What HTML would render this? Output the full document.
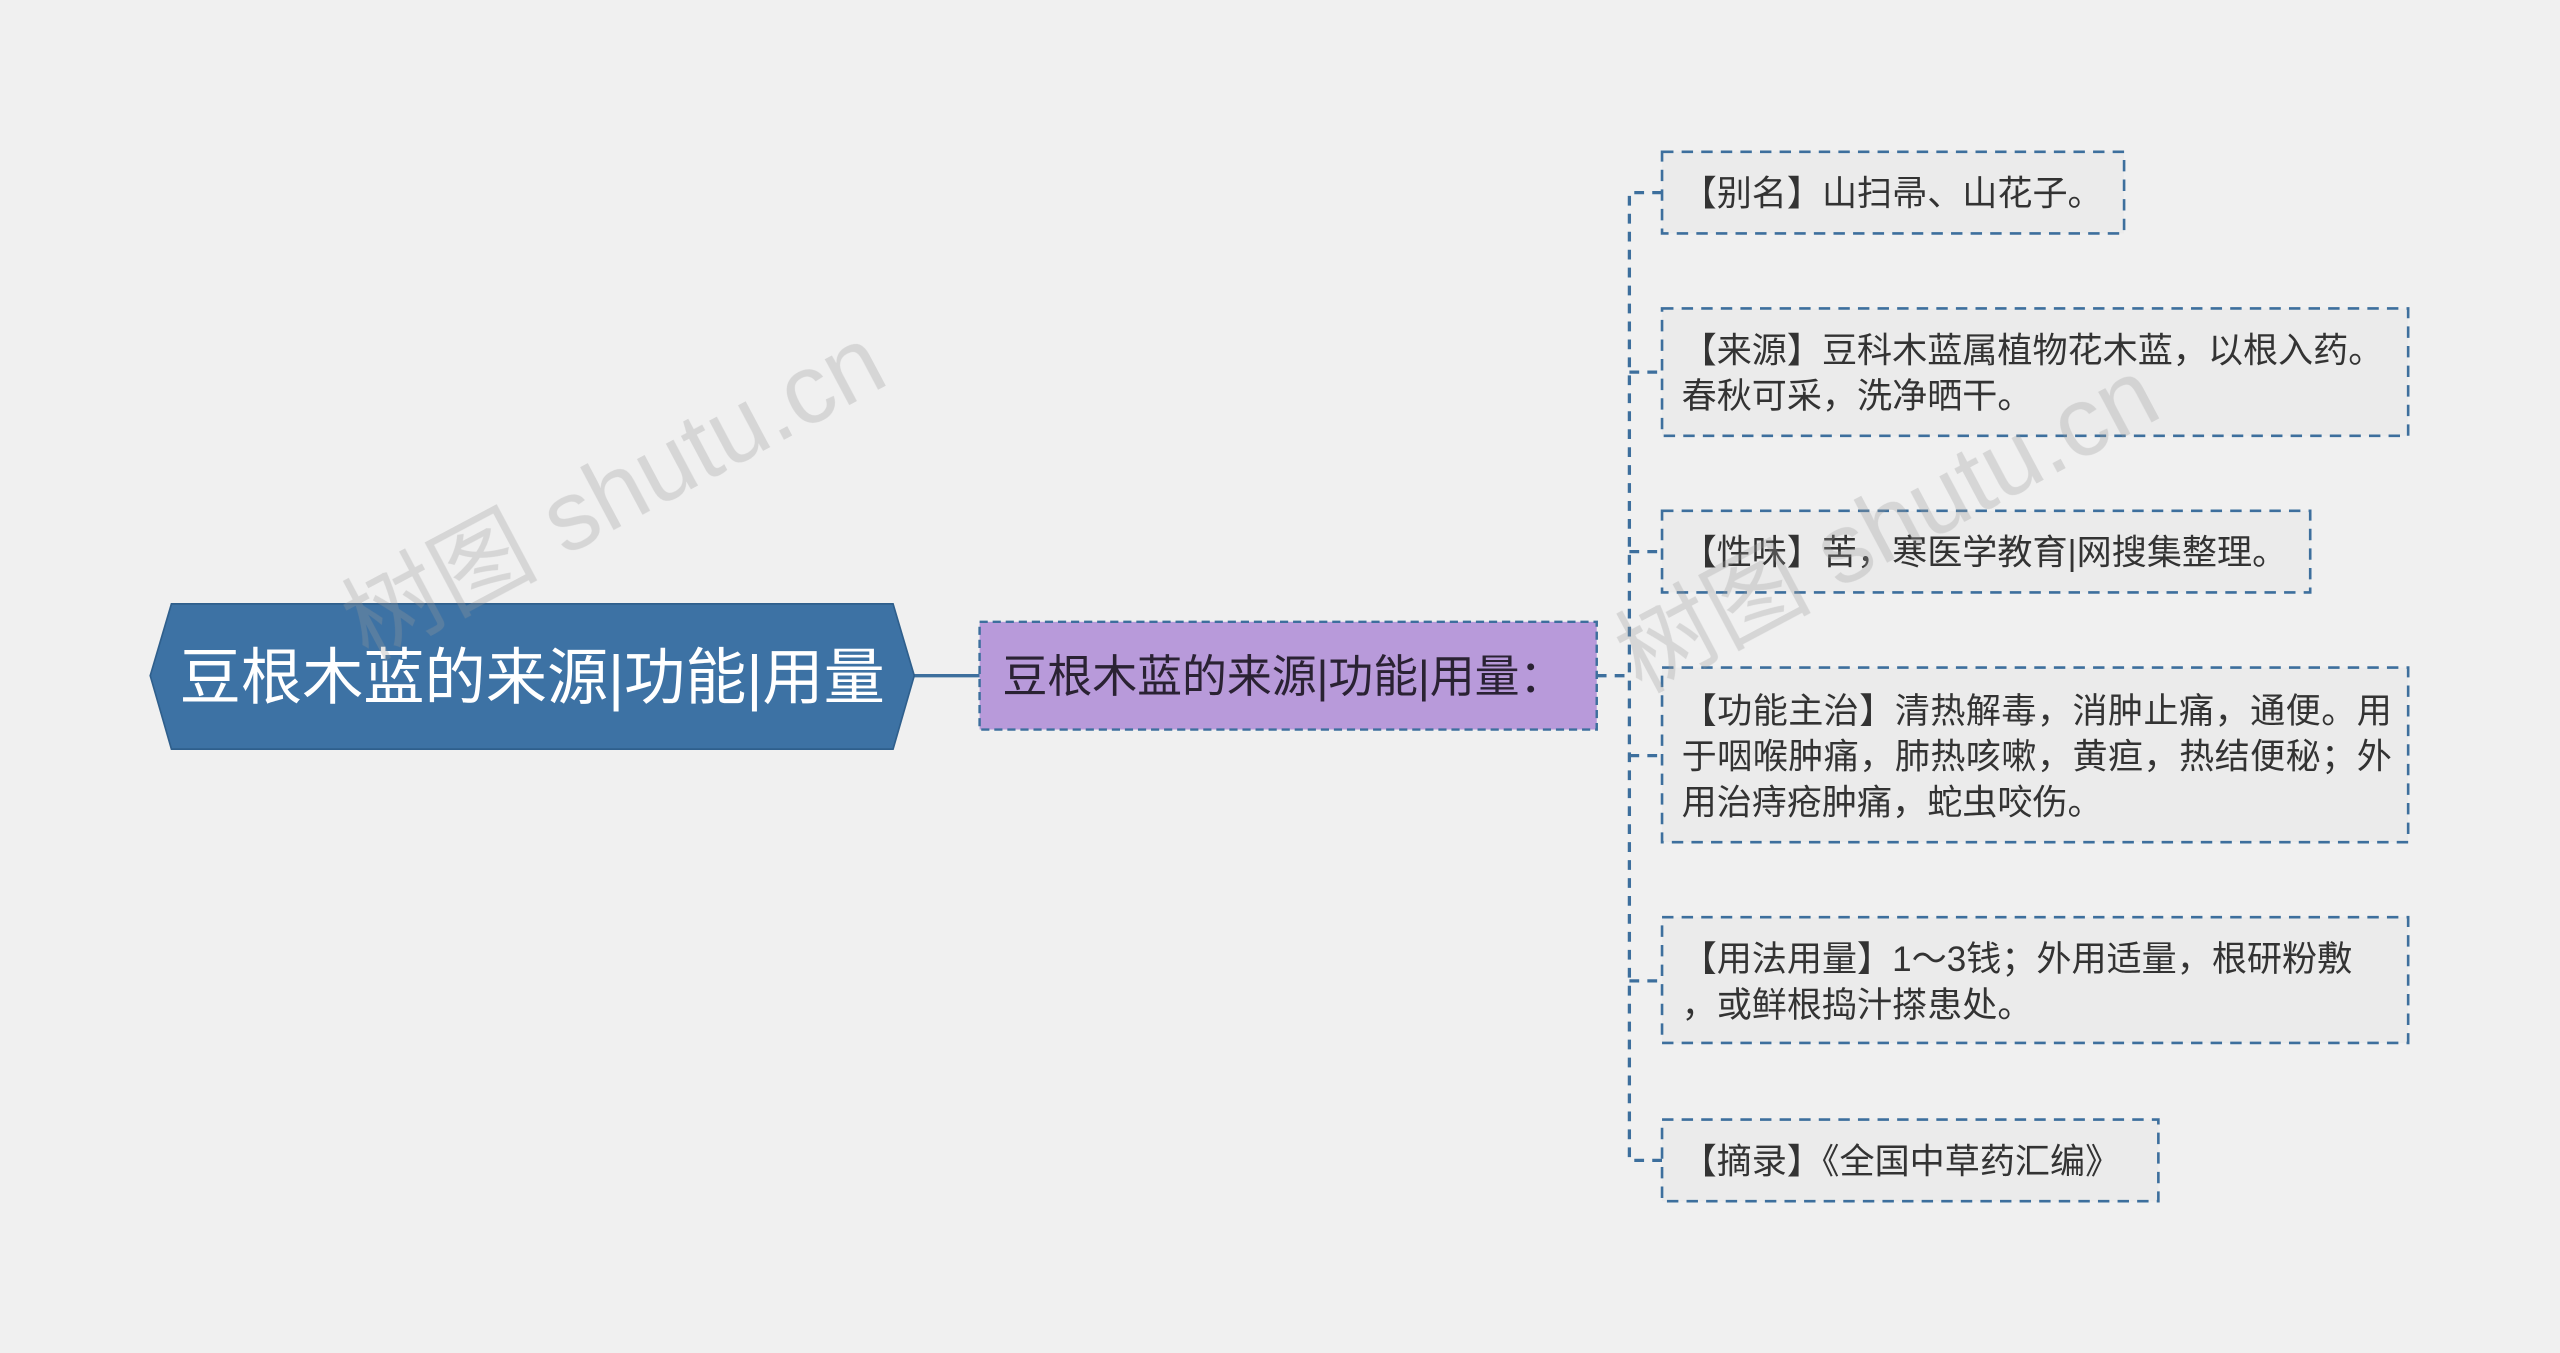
<!DOCTYPE html>
<html><head><meta charset="utf-8"><style>
html,body{margin:0;padding:0;background:#f0f0f0;}
svg{display:block}
text{font-family:"Liberation Sans","Noto Sans CJK SC",sans-serif;}
</style></head><body>
<svg width="2560" height="1353" viewBox="0 0 1568 829" preserveAspectRatio="none" xmlns="http://www.w3.org/2000/svg">
<rect width="1568" height="829" fill="#f0f0f0"/>
<g stroke="#3d6f9d" stroke-width="2" fill="none">
<line x1="560" y1="414" x2="600" y2="414"/>
<g stroke-dasharray="6,5">
<line x1="978" y1="414" x2="998" y2="414"/>
<path d="M1018 118 H998 V711 H1018"/>
<line x1="998" y1="228" x2="1018" y2="228"/>
<line x1="998" y1="338" x2="1018" y2="338"/>
<line x1="998" y1="463" x2="1018" y2="463"/>
<line x1="998" y1="601" x2="1018" y2="601"/>
</g>
</g>
<polygon points="92,414 105,370 547,370 560,414 547,459 105,459" fill="#3d72a4" stroke="#2f5f8c" stroke-width="1"/>
<text x="326" y="428" font-size="37.5" fill="#fff" text-anchor="middle">豆根木蓝的来源|功能|用量</text>
<rect x="600" y="381" width="378" height="66" fill="#b89ada" stroke="#3d6f9d" stroke-width="1.5" stroke-dasharray="5,3"/>
<text x="614" y="424" font-size="27.5" fill="#2a2233">豆根木蓝的来源|功能|用量：</text>
<g fill="#ebebeb" stroke="#3d6f9d" stroke-width="1.6" stroke-dasharray="7,5">
<rect x="1018" y="93" width="283" height="50"/>
<rect x="1018" y="189" width="457" height="78"/>
<rect x="1018" y="313" width="397" height="50"/>
<rect x="1018" y="409" width="457" height="107"/>
<rect x="1018" y="562" width="457" height="77"/>
<rect x="1018" y="686" width="304" height="50"/>
</g>
<g font-size="21.5" fill="#333">
<text x="1030" y="126">【别名】山扫帚、山花子。</text>
<text x="1030" y="222">【来源】豆科木蓝属植物花木蓝，以根入药。</text>
<text x="1030" y="250">春秋可采，洗净晒干。</text>
<text x="1030" y="346">【性味】苦，寒医学教育|网搜集整理。</text>
<text x="1030" y="443" textLength="435">【功能主治】清热解毒，消肿止痛，通便。用</text>
<text x="1030" y="471" textLength="435">于咽喉肿痛，肺热咳嗽，黄疸，热结便秘；外</text>
<text x="1030" y="499">用治痔疮肿痛，蛇虫咬伤。</text>
<text x="1030" y="595">【用法用量】1～3钱；外用适量，根研粉敷</text>
<text x="1030" y="623">，或鲜根捣汁搽患处。</text>
<text x="1030" y="719">【摘录】《全国中草药汇编》</text>
</g>
<g font-size="60" fill="#999" opacity="0.3" font-family="Liberation Serif,Noto Serif CJK SC,serif">
<text x="225" y="405" transform="rotate(-28 225 405)">树图 shutu.cn</text>
<text x="1005" y="425" transform="rotate(-28 1005 425)">树图 shutu.cn</text>
</g>
</svg>
</body></html>
